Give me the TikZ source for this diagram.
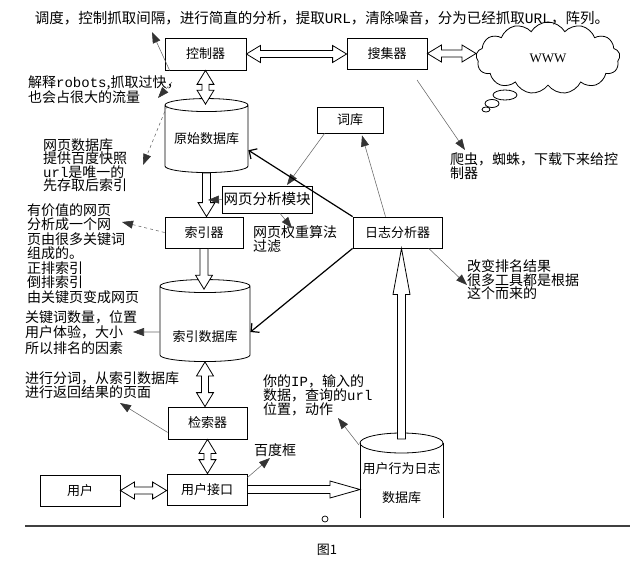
\documentclass[tikz,border=0pt]{standalone}
\usepackage{fontspec}
\setmainfont{Noto Sans CJK SC}
\setmonofont{Liberation Mono}
\newfontfamily\wwwfont{Liberation Serif}
\usetikzlibrary{calc,arrows.meta,shapes.geometric,shapes.symbols}

\tikzset{
	box/.style={draw, line width=0.8pt, inner sep=0pt, font=\fontsize{13}{13}\selectfont},
	db/.style={draw, cylinder, shape border rotate=90, aspect=0.2, line width=0.8pt, inner sep=0pt, font=\fontsize{13}{13}\selectfont},
	note/.style={align=left, anchor=west, inner sep=0pt},
	pointer/.style={draw=black!60, line width=0.55pt, -{Triangle[length=11pt,width=8pt,color=black!80]}},
	thickarr/.style={line width=1.2pt, -{Straight Barb[length=6pt,width=12pt]}},
	blk/.style={draw, line width=0.8pt, fill=white, line join=miter}
}

% hollow arrow with two heads
\newcommand{\dblarrow}[2]{%
	\path (#1) coordinate (t1) (#2) coordinate (t2);
	\coordinate (h1) at ($(t1)!14pt!(t2)$);
	\coordinate (h2) at ($(t2)!14pt!(t1)$);
	\draw[blk] (t1) -- ($(h1)!8.5pt!90:(t2)$) -- ($(h1)!3.5pt!90:(t2)$)
		-- ($(h2)!3.5pt!-90:(t1)$) -- ($(h2)!8.5pt!-90:(t1)$) -- (t2)
		-- ($(h2)!8.5pt!90:(t1)$) -- ($(h2)!3.5pt!90:(t1)$)
		-- ($(h1)!3.5pt!-90:(t2)$) -- ($(h1)!8.5pt!-90:(t2)$) -- cycle;
}
% hollow arrow with one head
\newcommand{\onearrow}[3][16pt]{%
	\path (#2) coordinate (t1) (#3) coordinate (t2);
	\coordinate (h2) at ($(t2)!#1!(t1)$);
	\draw[blk] ($(t1)!4pt!90:(t2)$) -- ($(h2)!4pt!-90:(t1)$) -- ($(h2)!8.5pt!-90:(t1)$)
		-- (t2) -- ($(h2)!8.5pt!90:(t1)$) -- ($(h2)!4pt!90:(t1)$) -- ($(t1)!4pt!-90:(t2)$) -- cycle;
}

\begin{document}
\begin{tikzpicture}[x=1pt, y=-1pt]
	\useasboundingbox (0,0) rectangle (640,578);

	\node[font=\fontsize{14.5}{14.5}\selectfont, inner sep=0pt] (title) at (322,18) {调度，控制抓取间隔，进行简直的分析，提取\texttt{URL}，清除噪音，分为已经抓取\texttt{URL}，阵列。};

	% boxes
	\node[box, minimum width=81pt, minimum height=32pt] (ctrl) at (205.5,54) {控制器};
	\node[box, minimum width=80pt, minimum height=31pt] (coll) at (387,53.5) {搜集器};
	\node[draw, cloud, cloud puffs=13, cloud puff arc=120, aspect=1.9, minimum width=144pt, minimum height=72pt, inner sep=0pt, line width=0.8pt, font=\wwwfont\fontsize{13}{13}\selectfont] (www) at (548,58) {WWW};
	\draw[line width=0.8pt, fill=white] (505,95) ellipse [x radius=12pt, y radius=5pt];
	\draw[line width=0.8pt, fill=white] (492,103.5) ellipse [x radius=7pt, y radius=4pt];
	\draw[line width=0.8pt, fill=white] (486,109.5) ellipse [x radius=4pt, y radius=2.5pt];

	\node[db, minimum width=83pt, minimum height=74pt] (db1) at (206.5,139) {原始数据库};
	\node[box, minimum width=66pt, minimum height=26pt] (ck) at (350,120) {词库};
	\node[box, minimum width=90pt, minimum height=27pt, font=\fontsize{14.5}{14.5}\selectfont] (wpa) at (267,199.5) {网页分析模块};
	\node[box, minimum width=78pt, minimum height=31pt] (sy) at (204,232.5) {索引器};
	\node[box, minimum width=89pt, minimum height=31pt] (rz) at (397.5,232.5) {日志分析器};
	\node[db, minimum width=90pt, minimum height=82pt, text height=34pt, text depth=0pt] (db2) at (205,324) {索引数据库};
	\node[box, minimum width=79pt, minimum height=32pt] (js) at (207.5,423) {检索器};
	\node[box, minimum width=80pt, minimum height=31pt] (jk) at (207,489.5) {用户接口};
	\node[box, minimum width=80pt, minimum height=31pt] (yh) at (80,490.5) {用户};

	% open log database
	\coordinate (db3c) at (401.5,443);
	\coordinate (db3w) at (360,443);
	\draw[line width=0.8pt] (360,518) -- (360,443) (443,443) -- (443,518);
	\draw[line width=0.8pt] (db3c) ellipse [x radius=41.5pt, y radius=10pt];
	\node[inner sep=0pt, align=center, font=\fontsize{13}{29}\selectfont] (db3) at (401.5,483.5) {用户行为日志\\数据库};

	% block arrows
	\dblarrow{ctrl.east}{ctrl.east -| coll.west}
	\dblarrow{coll.east}{coll.east -| www.west}
	\dblarrow{ctrl.south}{$(ctrl.south |- db1.north)+(0,6)$}
	\onearrow[14pt]{db1.south}{db1.south |- sy.north}
	\onearrow[14pt]{sy.south}{$(sy.south |- db2.north)+(0,10)$}
	\dblarrow{db2.south}{db2.south |- js.north}
	\dblarrow{js.south}{js.south |- jk.north}
	\dblarrow{yh.east}{yh.east -| jk.west}
	\onearrow[30pt]{jk.east}{jk.east -| db3w}
	\onearrow[46pt]{$(db3c)+(0,-4)$}{db3c |- rz.south}

	% notes
	\node[note, font=\fontsize{14}{15}\selectfont] (jieshi) at (28,89.5) {解释\texttt{robots},抓取过快，\\也会占很大的流量};
	\node[note, font=\fontsize{14}{13.5}\selectfont] (kuaizhao) at (43,165) {网页数据库\\提供百度快照\\\texttt{url}是唯一的\\先存取后索引};
	\node[note, font=\fontsize{14}{14.5}\selectfont] (youjia) at (27,253.5) {有价值的网页\\分析成一个网\\页由很多关键词\\组成的。\\正排索引\\倒排索引\\由关键页变成网页};
	\node[note, font=\fontsize{14}{14}\selectfont] (quanzhong) at (253,239) {网页权重算法\\过滤};
	\node[note, font=\fontsize{14}{13}\selectfont] (paichong) at (450,166.5) {爬虫，蜘蛛，下载下来给控\\制器};
	\node[note, font=\fontsize{14}{13.5}\selectfont] (gaibian) at (467,280) {改变排名结果\\很多工具都是根据\\这个而来的};
	\node[note, font=\fontsize{14}{15.5}\selectfont] (guanjian) at (25,332.5) {关键词数量，位置\\用户体验，大小\\所以排名的因素};
	\node[note, font=\fontsize{14}{14}\selectfont] (fenci) at (25,385) {进行分词，从索引数据库\\进行返回结果的页面};
	\node[note, font=\fontsize{14}{14}\selectfont] (ni) at (263,395) {你的\texttt{IP}，输入的\\数据，查询的\texttt{url}\\位置，动作};
	\node[font=\fontsize{14}{14}\selectfont, inner sep=0pt] (baidu) at (275,450) {百度框};

	% thin pointers
	\coordinate (e1) at (152,32);
	\coordinate (s2) at (172,82);
	\coordinate (e2) at (158,98);
	\coordinate (s3) at (167,106);
	\coordinate (e3) at (143,165);
	\coordinate (e4) at (208,200);
	\coordinate (e5) at (287,185);
	\coordinate (e6) at (292,228);
	\coordinate (e7) at (122,222);
	\coordinate (s11) at (417,80);
	\coordinate (e11) at (465,150);
	\coordinate (e12) at (467,285);
	\coordinate (e13) at (133,332);
	\coordinate (e14) at (120,403);
	\coordinate (e15) at (270,458);
	\coordinate (e16) at (338,418);
	\draw[pointer] ($(ctrl.south west)+(5,0)$) -- (e1);
	\draw[pointer, dashed] (s2) -- (e2);
	\draw[pointer, dashed] (s3) -- (e3);
	\draw[pointer] (wpa.west) -- (e4);
	\draw[pointer] ($(ck.south west)+(8,0)$) -- (e5);
	\draw[pointer] ($(wpa.south)+(13,0)$) -- (e6);
	\draw[pointer, dashed] (sy.west) -- (e7);
	\draw[pointer] ($(rz.north)+(-12,0)$) -- ($(ck.south)+(12,2)$);
	\draw[pointer] (s11) -- (e11);
	\draw[pointer] (rz.-27) -- (e12);
	\draw[pointer] ($(db2.west)+(0,8)$) -- (e13);
	\draw[pointer] ($(js.south west)+(0,-7)$) -- (e14);
	\draw[pointer] ($(jk.north east)+(0,4)$) -- (e15);
	\draw[pointer] ($(db3w)+(-1,2)$) -- (e16);

	% log analyser feedback
	\draw[thickarr] (rz.north west) -- (db1.-15);
	\draw[thickarr] (rz.south west) -- (db2.-10);

	% base line
	\draw[line width=1.2pt, black!75] (25,526) -- (630,526);
	\draw[line width=0.7pt] (325,519) circle (3pt);
	\node[font=\fontsize{13}{13}\selectfont, inner sep=0pt] (tu) at (327,550) {图1};
\end{tikzpicture}
\end{document}
